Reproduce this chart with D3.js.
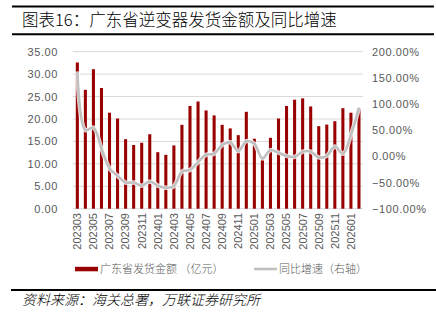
<!DOCTYPE html>
<html>
<head>
<meta charset="utf-8">
<script src="https://cdn.jsdelivr.net/npm/d3@7"></script>
<style>
  html, body { margin: 0; padding: 0; background: #fff; }
  svg { display: block; }
</style>
</head>
<body>
<svg id="chart" width="436" height="322"></svg>
<script>
const months = ["202303","202304","202305","202306","202307","202308","202309","202310","202311","202312",
  "202401","202402","202403","202404","202405","202406","202407","202408","202409","202410","202411","202412",
  "202501","202502","202503","202504","202505","202506","202507","202508","202509","202510","202511","202512",
  "202601","202602"];
const amount = [32.6,26.5,31.1,26.9,21.4,20.1,15.5,14.2,14.7,16.6,
  12.6,12.0,14.1,18.7,22.9,23.9,21.9,20.8,18.7,17.9,16.4,21.6,
  15.6,11.0,15.8,20.1,22.9,24.3,24.6,22.8,18.4,18.75,19.5,22.4,
  21.4,22.4];
const yoy = [162,50,55,15,-23,-37,-50,-50,-56,-48,
  -56,-60,-57,-29,-26,-11,3,5,22,27,10,29,
  24,-4,12,7,1,-1,9,9,-2,1,19,5,
  41,93];
const leftTicks = [0,5,10,15,20,25,30,35];
const rightTicks = [-100,-50,0,50,100,150,200];
const xTickLabels = months.filter((m,i) => i % 2 === 0 && i < 35);

const svg = d3.select("#chart");
const font = "'Liberation Sans', Arial, sans-serif";
const cjk = "'Noto Sans CJK SC', sans-serif";
const labelColor = "#595959";

const x = d3.scaleBand().domain(months).range([73.3, 363]).paddingInner(0.62).paddingOuter(0.31);
const yL = d3.scaleLinear().domain([0,35]).range([208.7, 51.7]);
const yR = d3.scaleLinear().domain([-100,200]).range([208.7, 51.7]);

// frame lines
svg.append("line").attr("x1",12).attr("x2",434).attr("y1",6.5).attr("y2",6.5).attr("stroke","#000").attr("stroke-width",2);
svg.append("line").attr("x1",12).attr("x2",434).attr("y1",34.3).attr("y2",34.3).attr("stroke","#000").attr("stroke-width",2);
svg.append("line").attr("x1",11).attr("x2",436).attr("y1",290).attr("y2",290).attr("stroke","#000").attr("stroke-width",2);

svg.append("text").attr("x",22).attr("y",26).attr("font-family",cjk).attr("font-weight",300).attr("font-size",16.5).attr("fill","#000")
  .text("图表16：广东省逆变器发货金额及同比增速");

// gridlines
const grid = svg.append("g");
leftTicks.forEach(t => {
  grid.append("line").attr("x1",72.7).attr("x2",363).attr("y1",yL(t)).attr("y2",yL(t))
    .attr("stroke","#d9d9d9").attr("stroke-width",1);
});

// left axis
const axL = svg.append("g").attr("transform","translate(58,0)")
  .call(d3.axisLeft(yL).tickValues(leftTicks).tickSize(0).tickPadding(0).tickFormat(d3.format(".2f")));
axL.select(".domain").remove();
axL.selectAll("text").attr("font-family",font).attr("font-size",11).attr("fill",labelColor).attr("letter-spacing",0.6);

// right axis
const axR = svg.append("g").attr("transform","translate(372,0)")
  .call(d3.axisRight(yR).tickValues(rightTicks).tickSize(0).tickPadding(0).tickFormat(d => d3.format(".2f")(d) + "%"));
axR.select(".domain").remove();
axR.selectAll("text").attr("font-family",font).attr("font-size",11).attr("fill",labelColor).attr("letter-spacing",0.6)
  .text(d => (d < 0 ? "−" + d3.format(".2f")(-d) : d3.format(".2f")(d)) + "%");

// x axis
const axB = svg.append("g").attr("transform","translate(0,212)")
  .call(d3.axisBottom(x).tickValues(xTickLabels).tickSize(0).tickPadding(0));
axB.select(".domain").remove();
axB.selectAll("text").attr("font-family",font).attr("font-size",11).attr("fill",labelColor)
  .attr("transform","rotate(-90)").attr("text-anchor","end").attr("dy","0.35em").attr("x",-1).attr("y",0);

// bars
svg.append("g").selectAll("rect").data(months).join("rect")
  .attr("x", (d) => x(d)).attr("width", x.bandwidth())
  .attr("y", (d,i) => yL(amount[i])).attr("height", (d,i) => yL(0) - yL(amount[i]))
  .attr("fill","#990000");

// line
const line = d3.line().x((d,i) => x(months[i]) + x.bandwidth()/2).y(d => yR(d)).curve(d3.curveCatmullRom.alpha(0.5));
svg.append("path").attr("d", line(yoy)).attr("fill","none").attr("stroke","#ffffff").attr("stroke-width",4.5).attr("stroke-opacity",0.8);
svg.append("path").attr("d", line(yoy)).attr("fill","none").attr("stroke","#c0c0c0").attr("stroke-width",2.6);

// legend
const lg = svg.append("g");
lg.append("rect").attr("x",75).attr("y",266.8).attr("width",23).attr("height",4.5).attr("fill","#990000");
lg.append("text").attr("x",100).attr("y",273).attr("font-family",cjk).attr("font-weight",300).attr("font-size",11).attr("fill",labelColor)
  .text("广东省发货金额 （亿元）");
lg.append("line").attr("x1",254).attr("x2",277).attr("y1",269).attr("y2",269).attr("stroke","#c0c0c0").attr("stroke-width",2.6);
lg.append("text").attr("x",279).attr("y",273).attr("font-family",cjk).attr("font-weight",300).attr("font-size",11).attr("fill",labelColor)
  .text("同比增速（右轴）");

// source
svg.append("text").attr("x",22).attr("y",305).attr("font-family",cjk).attr("font-weight",300).attr("font-size",14).attr("font-style","italic").attr("fill","#000")
  .text("资料来源：海关总署，万联证券研究所");
</script>
</body>
</html>
